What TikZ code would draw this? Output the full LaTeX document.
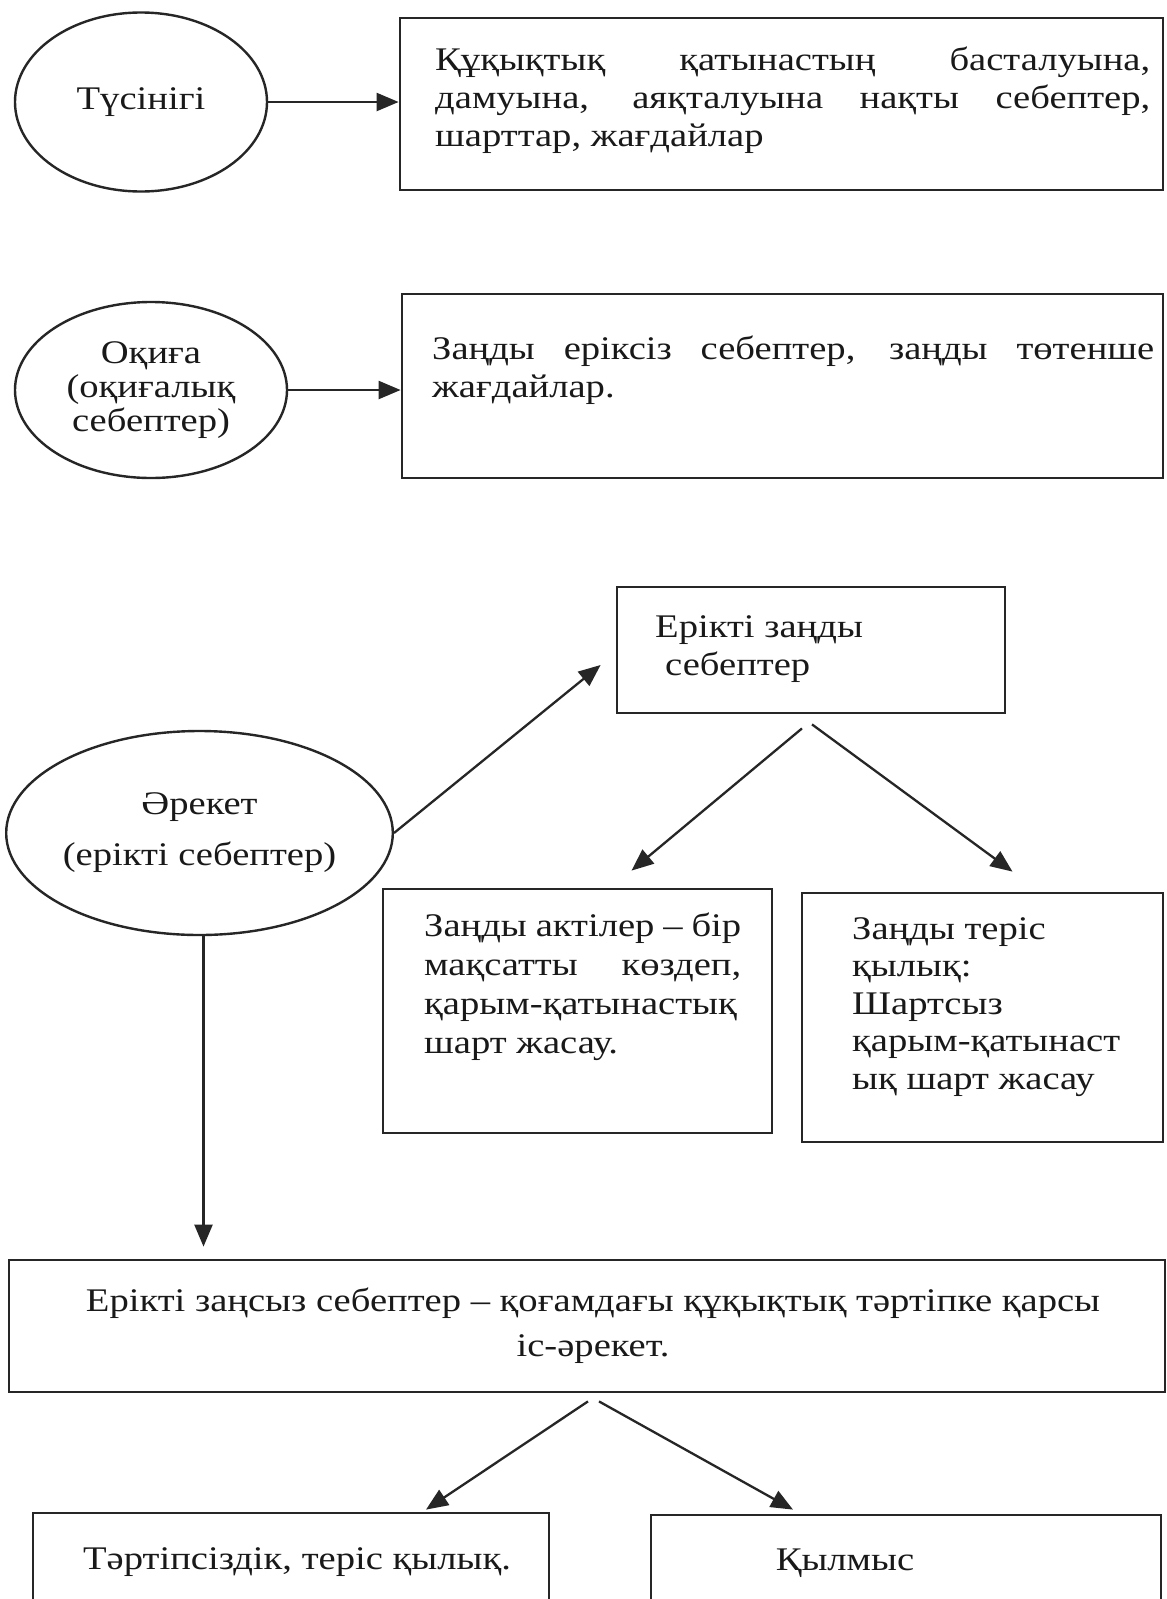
\documentclass[tikz,border=0pt]{standalone}
\usepackage{fontspec}
\setmainfont{Liberation Serif}[FakeStretch=1.17]
\usetikzlibrary{arrows.meta,shapes.geometric,calc}
\hyphenpenalty=10000
\exhyphenpenalty=10000
\begin{document}
\begin{tikzpicture}[x=1pt,y=-1pt,
  boxshape/.style={draw=black!85, line width=2.8pt, rectangle, inner sep=0pt},
  ell/.style={draw=black!85, line width=2.4pt, ellipse, inner sep=0pt, align=center, text=black!90},
  txt/.style={inner sep=0pt, text=black!90},
  arr/.style={draw=black!85, line width=2.3pt, -{Triangle[length=22pt,width=18pt]}},
]
\useasboundingbox (0,0) rectangle (1167,1599);
\fill[white] (0,0) rectangle (1167,1599);
\clip (0,0) rectangle (1167,1599);

% row 1
\node[ell, minimum width=252pt, minimum height=179pt, font=\fontsize{33}{38}\selectfont] (e1) at (141,102) {Түсінігі};
\node[boxshape, minimum width=763pt, minimum height=172pt] (b1) at (781.5,104) {};
\node[txt, anchor=west, text width=715pt, align=justify, font=\fontsize{33}{38}\selectfont] (t1) at (435,100)
  {Құқықтық қатынастың басталуына,\linebreak дамуына, аяқталуына нақты себептер,\linebreak шарттар, жағдайлар};

% row 2
\node[ell, minimum width=272pt, minimum height=176pt, font=\fontsize{33}{34}\selectfont] (e2) at (151,390) {Оқиға\\(оқиғалық\\себептер)};
\node[boxshape, minimum width=761pt, minimum height=184pt] (b2) at (782.5,386) {};
\node[txt, anchor=west, text width=722pt, align=justify, font=\fontsize{33}{38}\selectfont] (t2) at (432,370)
  {Заңды еріксіз себептер, заңды төтенше\linebreak жағдайлар.};

% row 3
\node[ell, minimum width=335pt, minimum height=204pt, font=\fontsize{33}{51}\selectfont] (e3) at (199.5,833) {Әрекет\\(ерікті себептер)};
\node[boxshape, minimum width=388pt, minimum height=126pt] (b3) at (811,650) {};
\node[txt, anchor=west, align=left, font=\fontsize{33}{38}\selectfont] (t3) at (655,649) {Ерікті заңды\\\hspace*{10pt}себептер};

\node[boxshape, minimum width=389pt, minimum height=244pt] (b4) at (577.5,1011) {};
\node[txt, anchor=west, text width=317pt, align=justify, font=\fontsize{33}{39}\selectfont] (t4) at (424,987)
  {Заңды актілер – бір\linebreak мақсатты көздеп,\linebreak қарым-қатынастық\linebreak шарт жасау.};

\node[boxshape, minimum width=361pt, minimum height=249pt] (b5) at (982.5,1017.5) {};
\node[txt, anchor=west, align=left, font=\fontsize{33}{37.5}\selectfont] (t5) at (852,1007)
  {Заңды теріс\\қылық:\\Шартсыз\\қарым-қатынаст\\ық шарт жасау};

% row 4
\node[boxshape, minimum width=1156pt, minimum height=132pt] (b6) at (587,1326) {};
\node[txt, align=center, font=\fontsize{33}{45}\selectfont] (t6) at (593,1326)
  {Ерікті заңсыз себептер – қоғамдағы құқықтық тәртіпке қарсы\\іс-әрекет.};

\node[boxshape, minimum width=516pt, minimum height=127pt] (b7) at (291,1576.5) {};
\node[txt, font=\fontsize{33}{38}\selectfont] (t7) at (297,1562) {Тәртіпсіздік, теріс қылық.};
\node[boxshape, minimum width=510pt, minimum height=127pt] (b8) at (906,1578.5) {};
\node[txt, font=\fontsize{33}{38}\selectfont] (t8) at (845,1563) {Қылмыс};

% connectors
\draw[arr] (e1.east) -- (e1.east -| b1.west);
\draw[arr] (e2.east) -- (e2.east -| b2.west);
\draw[arr] (e3.east) -- ([xshift=-15pt,yshift=-15pt]b3.west);
\draw[arr] ([xshift=-9pt,yshift=-14pt]b3.south) -- ([xshift=54pt,yshift=17pt]b4.north);
\draw[arr] ([xshift=1pt,yshift=-10pt]b3.south) -- ([xshift=30pt,yshift=20pt]b5.north);
\draw[arr] ([xshift=4pt]e3.south) -- ([xshift=4pt,yshift=12pt]e3.south |- b6.north);
\draw[arr] ([xshift=1pt,yshift=-8pt]b6.south) -- ([xshift=135pt,yshift=2pt]b7.north);
\draw[arr] ([xshift=12pt,yshift=-8pt]b6.south) -- ([xshift=-113pt,yshift=4pt]b8.north);
\end{tikzpicture}
\end{document}
